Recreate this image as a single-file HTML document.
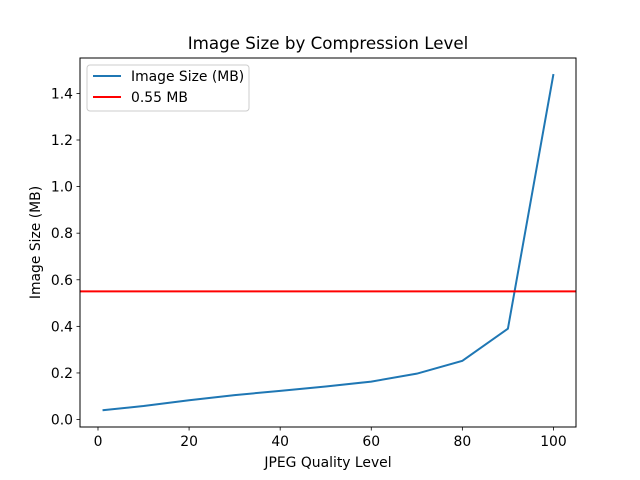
<!DOCTYPE html>
<html><head><meta charset="utf-8"><style>body{margin:0;background:#fff}svg{display:block;font-family:"DejaVu Sans","Liberation Sans",sans-serif}</style></head>
<body>
<svg id="chart" width="640" height="480">
<rect width="640" height="480" fill="#fff"/>
<text x="328" y="49" font-size="16.7" text-anchor="middle">Image Size by Compression Level</text>
<g id="plot"></g>
<text x="328" y="467" font-size="13.9" text-anchor="middle">JPEG Quality Level</text>
<text transform="translate(40,242.5) rotate(-90)" font-size="13.9" text-anchor="middle">Image Size (MB)</text>
</svg>
<script>
const qualities=[1,10,20,30,40,50,60,70,80,90,100];
const sizes=[0.04,0.058,0.083,0.105,0.123,0.142,0.163,0.197,0.252,0.39,1.483];
const threshold=[0.55];
const xTicks=[0,20,40,60,80,100];
const yTicks=[0.0,0.2,0.4,0.6,0.8,1.0,1.2,1.4];
const L=80,R=576,T=58,B=427;
const xmin=-3.95,xmax=104.95,ymin=-0.032,ymax=1.552;
const sx=v=>L+(v-xmin)/(xmax-xmin)*(R-L);
const sy=v=>B-(v-ymin)/(ymax-ymin)*(B-T);
const NS='http://www.w3.org/2000/svg';
const g=document.getElementById('plot');
function mk(t,a,p){const e=document.createElementNS(NS,t);for(const k in a)e.setAttribute(k,a[k]);(p||g).appendChild(e);return e;}
xTicks.forEach(v=>{const x=sx(v);
const l=mk('line',{x1:x,x2:x,y1:B,y2:B+3.5,stroke:'#000','stroke-width':0.8});


const t=mk('text',{x:x,y:B+19,'font-size':13.9,'text-anchor':'middle'});t.textContent=v;

});
yTicks.forEach(v=>{const y=sy(v);
const l=mk('line',{x1:L-3.5,x2:L,y1:y,y2:y,stroke:'#000','stroke-width':0.8});


const t=mk('text',{x:L-7,y:y+5,'font-size':13.9,'text-anchor':'end'});t.textContent=v.toFixed(1);

});
const line=mk('polyline',{points:qualities.map((q,i)=>sx(q)+','+sy(sizes[i])).join(' '),fill:'none',stroke:'#1f77b4','stroke-width':2});


const h=mk('line',{x1:L,x2:R,y1:sy(threshold[0]),y2:sy(threshold[0]),stroke:'#ff0000','stroke-width':2});


const fr=mk('rect',{x:L,y:T,width:R-L,height:B-T,fill:'none',stroke:'#000','stroke-width':1});


const lg=mk('g',{});


mk('rect',{x:87,y:65,width:162,height:46,rx:3,fill:'#fff',stroke:'#ccc','stroke-width':1},lg);
mk('line',{x1:93,x2:121,y1:76,y2:76,stroke:'#1f77b4','stroke-width':2},lg);
let t1=mk('text',{x:131,y:81,'font-size':13.9},lg);t1.textContent='Image Size (MB)';


mk('line',{x1:93,x2:121,y1:97,y2:97,stroke:'#ff0000','stroke-width':2},lg);
let t2=mk('text',{x:131,y:102,'font-size':13.9},lg);t2.textContent='0.55 MB';


</script>
</body></html>
